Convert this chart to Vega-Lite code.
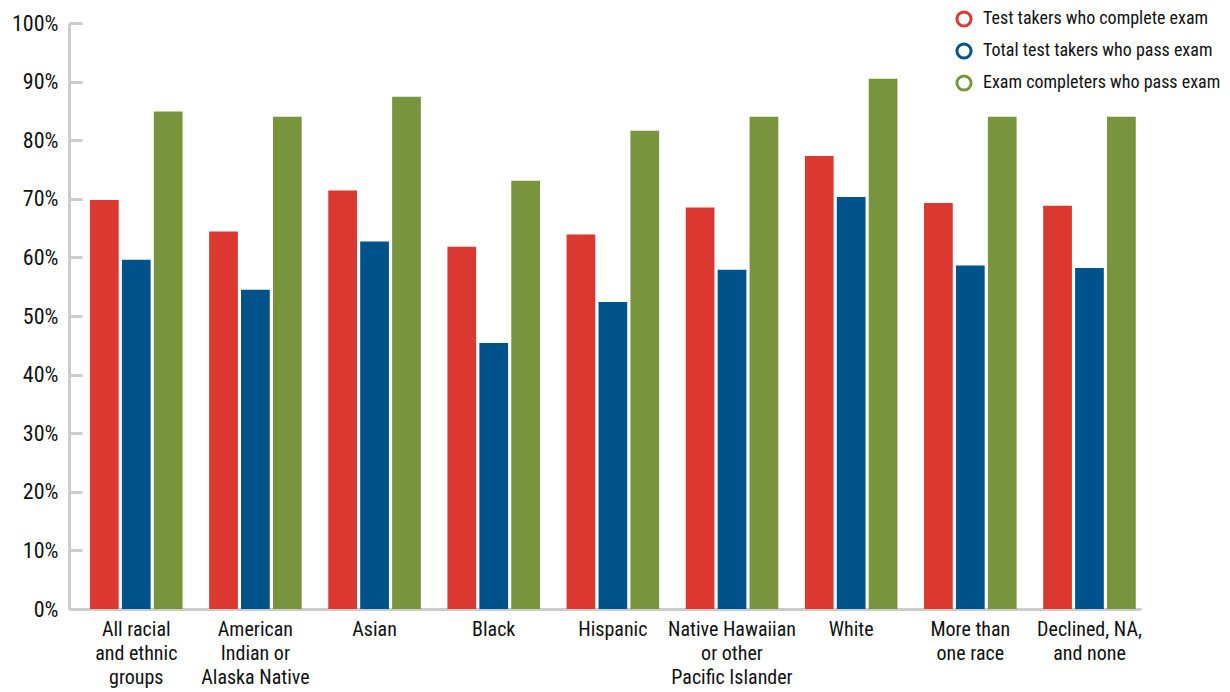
{
  "$schema": "https://vega.github.io/schema/vega-lite/v6.json",
  "width": 1072,
  "height": 586,
  "autosize": "none",
  "padding": {"left": 69, "top": 23, "right": 89, "bottom": 83},
  "background": "white",
  "config": {
    "font": "Roboto Condensed, DejaVu Sans Condensed, Liberation Sans Narrow, sans-serif",
    "view": {"stroke": null}
  },
  "data": {
    "values": [
      {"group": "All racial and ethnic groups", "measure": "Test takers who complete exam", "value": 69.8},
      {"group": "All racial and ethnic groups", "measure": "Total test takers who pass exam", "value": 59.6},
      {"group": "All racial and ethnic groups", "measure": "Exam completers who pass exam", "value": 84.9},
      {"group": "American Indian or Alaska Native", "measure": "Test takers who complete exam", "value": 64.4},
      {"group": "American Indian or Alaska Native", "measure": "Total test takers who pass exam", "value": 54.5},
      {"group": "American Indian or Alaska Native", "measure": "Exam completers who pass exam", "value": 84.0},
      {"group": "Asian", "measure": "Test takers who complete exam", "value": 71.4},
      {"group": "Asian", "measure": "Total test takers who pass exam", "value": 62.7},
      {"group": "Asian", "measure": "Exam completers who pass exam", "value": 87.4},
      {"group": "Black", "measure": "Test takers who complete exam", "value": 61.8},
      {"group": "Black", "measure": "Total test takers who pass exam", "value": 45.4},
      {"group": "Black", "measure": "Exam completers who pass exam", "value": 73.1},
      {"group": "Hispanic", "measure": "Test takers who complete exam", "value": 63.9},
      {"group": "Hispanic", "measure": "Total test takers who pass exam", "value": 52.4},
      {"group": "Hispanic", "measure": "Exam completers who pass exam", "value": 81.6},
      {"group": "Native Hawaiian or other Pacific Islander", "measure": "Test takers who complete exam", "value": 68.5},
      {"group": "Native Hawaiian or other Pacific Islander", "measure": "Total test takers who pass exam", "value": 57.9},
      {"group": "Native Hawaiian or other Pacific Islander", "measure": "Exam completers who pass exam", "value": 84.0},
      {"group": "White", "measure": "Test takers who complete exam", "value": 77.3},
      {"group": "White", "measure": "Total test takers who pass exam", "value": 70.3},
      {"group": "White", "measure": "Exam completers who pass exam", "value": 90.5},
      {"group": "More than one race", "measure": "Test takers who complete exam", "value": 69.3},
      {"group": "More than one race", "measure": "Total test takers who pass exam", "value": 58.6},
      {"group": "More than one race", "measure": "Exam completers who pass exam", "value": 84.0},
      {"group": "Declined, NA, and none", "measure": "Test takers who complete exam", "value": 68.8},
      {"group": "Declined, NA, and none", "measure": "Total test takers who pass exam", "value": 58.2},
      {"group": "Declined, NA, and none", "measure": "Exam completers who pass exam", "value": 84.0}
    ]
  },
  "encoding": {
    "x": {
      "field": "group",
      "type": "nominal",
      "sort": null,
      "scale": {"paddingInner": 0.223, "paddingOuter": 0.11, "align": 0.8},
      "axis": {
        "title": null,
        "labelAngle": 0,
        "labelFontSize": 20,
        "labelColor": "#111111",
        "labelLineHeight": 24,
        "labelPadding": 10,
        "labelBaseline": "top",
        "labelOverlap": false,
        "labelLimit": 0,
        "ticks": false,
        "domainColor": "#cccccc",
        "domainWidth": 3,
        "labelExpr": "datum.label == 'All racial and ethnic groups' ? ['All racial', 'and ethnic', 'groups'] : datum.label == 'American Indian or Alaska Native' ? ['American', 'Indian or', 'Alaska Native'] : datum.label == 'Native Hawaiian or other Pacific Islander' ? ['Native Hawaiian', 'or other', 'Pacific Islander'] : datum.label == 'More than one race' ? ['More than', 'one race'] : datum.label == 'Declined, NA, and none' ? ['Declined, NA,', 'and none'] : datum.label"
      }
    },
    "xOffset": {
      "field": "measure",
      "type": "nominal",
      "sort": ["Test takers who complete exam", "Total test takers who pass exam", "Exam completers who pass exam"],
      "scale": {"paddingInner": 0.1, "paddingOuter": 0}
    },
    "y": {
      "field": "value",
      "type": "quantitative",
      "scale": {"domain": [0, 100], "nice": false},
      "axis": {
        "title": null,
        "values": [0, 10, 20, 30, 40, 50, 60, 70, 80, 90, 100],
        "labelExpr": "datum.value + '%'",
        "labelFontSize": 22,
        "labelColor": "#111111",
        "labelOverlap": false,
        "labelFlush": false,
        "grid": false,
        "domainColor": "#cccccc",
        "domainWidth": 3,
        "tickColor": "#cccccc",
        "tickWidth": 3,
        "tickSize": -13,
        "labelPadding": 24
      }
    }
  },
  "layer": [
    {
      "mark": {"type": "point", "filled": false, "shape": "circle", "strokeWidth": 3, "size": 30, "opacity": 1, "yOffset": 20},
      "encoding": {
        "color": {
          "field": "measure",
          "type": "nominal",
          "scale": {
            "domain": ["Test takers who complete exam", "Total test takers who pass exam", "Exam completers who pass exam"],
            "range": ["#DA3831", "#00538A", "#78953D"]
          },
          "legend": {
            "title": null,
            "orient": "none",
            "legendX": 886,
            "legendY": -13,
            "padding": 0,
            "symbolType": "circle",
            "symbolSize": 200,
            "symbolStrokeWidth": 3,
            "symbolOpacity": 1,
            "symbolFillColor": "white",
            "labelFontSize": 18,
            "labelColor": "#111111",
            "labelLimit": 0,
            "labelOffset": 10,
            "rowPadding": 4
          }
        }
      }
    },
    {
      "mark": {"type": "bar"},
      "encoding": {
        "fill": {
          "field": "measure",
          "type": "nominal",
          "scale": {
            "domain": ["Exam completers who pass exam", "Test takers who complete exam", "Total test takers who pass exam"],
            "range": ["#78953D", "#DA3831", "#00538A"]
          },
          "legend": null
        }
      }
    }
  ]
}
